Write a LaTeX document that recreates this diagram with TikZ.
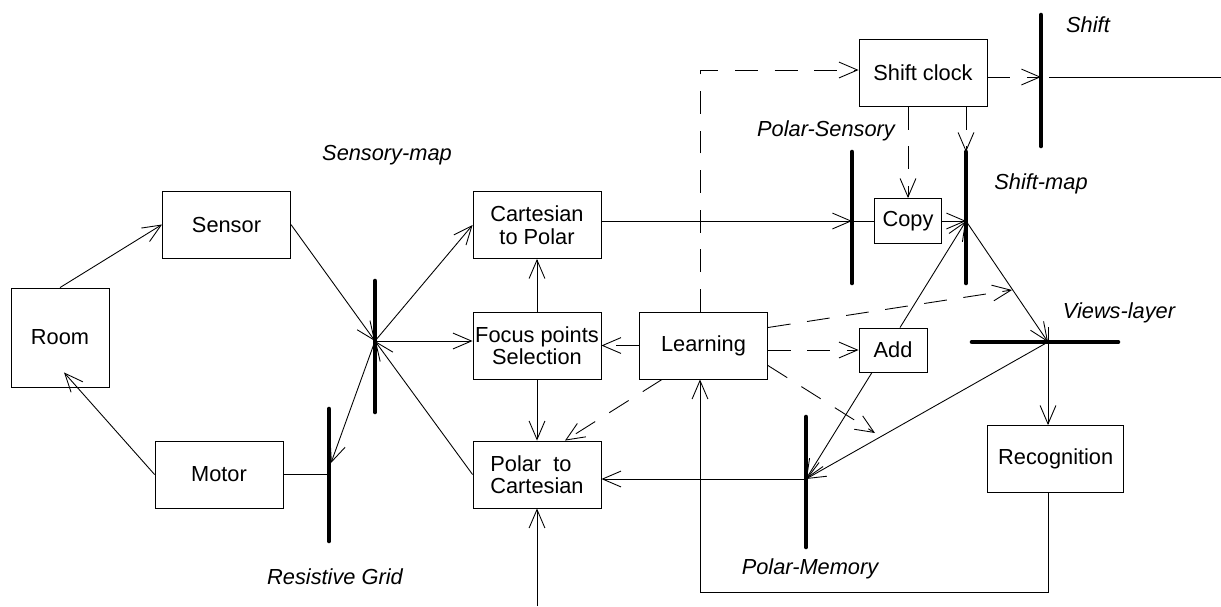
\documentclass[tikz,border=0pt]{standalone}
\usepackage{fontspec}
\setmainfont{Liberation Sans}
\usetikzlibrary{arrows.meta}
\tikzset{
  blk/.style={draw, inner sep=0pt, minimum width=2.56cm, minimum height=1.34cm, align=center},
  bar/.style={line width=2.6pt, line cap=round},
  lbl/.style={font=\fontsize{12.4}{12.8}\selectfont\itshape},
  dsh/.style={dash pattern=on 13pt off 9.5pt}
}

\begin{document}
\begin{tikzpicture}[x=0.02cm, y=-0.02cm, line width=0.5pt,
  >={Straight Barb[length=10.5pt,width=9pt]}, font=\fontsize{12.4}{12.8}\selectfont]
	\useasboundingbox (0,0) rectangle (1221,606);
	\node[blk, minimum width=1.96cm, minimum height=1.98cm] (Room) at (60,337.5) {Room};
	\node[blk] (Sensor) at (226.5,224.5) {Sensor};
	\node[blk] (Motor) at (219,474.5) {Motor};
	\node[blk] (CtoP) at (537,225) {Cartesian\\to Polar};
	\node[blk] (Focus) at (537,345.5) {Focus points\\Selection};
	\node[blk, align=left] (PtoC) at (537,474.5) {Polar~ to\\Cartesian};
	\node[blk] (Learning) at (703.5,345.5) {Learning};
	\node[blk] (Clock) at (923,73) {Shift clock};
	\node[blk, minimum width=1.35cm, minimum height=0.9cm] (Copy) at (908,221) {Copy};
	\node[blk, minimum width=1.36cm, minimum height=0.88cm] (Add) at (893,350) {Add};
	\node[blk, minimum width=2.72cm] (Recog) at (1055.7,459) {Recognition};

	\coordinate (smap) at (375,341);
	\coordinate (rgin) at (331,463);
	\coordinate (rg) at (329,474.5);
	\coordinate (psens) at (852,221);
	\coordinate (shmap) at (966,221);
	\coordinate (shmaptop) at (966,152);
	\coordinate (shbar) at (1041,77);
	\coordinate (shout) at (1221,77);
	\coordinate (views) at (1048,342);
	\coordinate (pmem) at (806,479);
	\coordinate (lcorner) at (700,70);
	\coordinate (lup) at (1012,290);
	\coordinate (ldn) at (875,433);
	\coordinate (lbot) at (700,592);
	\coordinate (pin) at (537,606);

	\draw[bar] (375,281) -- (375,412);
	\draw[bar] (329,409) -- (329,541);
	\draw[bar] (852,152) -- (852,283);
	\draw[bar] (966,152) -- (966,283);
	\draw[bar] (1041,15) -- (1041,146);
	\draw[bar] (972,342) -- (1118,342);
	\draw[bar] (806,417) -- (806,547);

	\path[->]
	(Room.north) edge (Sensor.west)
	(Sensor.east) edge (smap)
	(Motor.west) edge ([xshift=0.08cm,yshift=0.3cm]Room.south)
	(smap) edge (CtoP.west)
	(smap) edge (Focus.west |- smap)
	(smap) edge (rgin)
	(PtoC.west) edge (smap)
	(Focus.north) edge (CtoP.south)
	(Focus.south) edge (PtoC.north)
	(CtoP.east |- psens) edge (psens)
	(Copy.east) edge (shmap)
	(shmap) edge (views)
	([xshift=0.14cm]Add.north) edge (shmap)
	([xshift=-0.42cm]Add.south) edge (pmem)
	(views) edge (pmem)
	(pmem) edge (pmem -| PtoC.east)
	(pin) edge (PtoC.south)
	([yshift=0.3cm]views) edge (views |- Recog.north);
	\path (Motor.east) edge (rg) (psens) edge (Copy.west) ([xshift=0.16cm]shbar) edge (shout);
	\draw[->] (Recog.south -| views) |- (lbot) -- (lbot |- Learning.south);

	\path[->, dsh]
	(Learning.west) edge (Focus.east)
	(Learning.east |- Add.west) edge (Add.west)
	([yshift=0.36cm]Learning.east) edge (lup)
	([yshift=-0.4cm]Learning.east) edge (ldn)
	([xshift=0.46cm]Learning.south west) edge ([xshift=0.56cm]PtoC.north)
	(Clock.east |- shbar) edge (shbar)
	(Copy.north |- Clock.south) edge (Copy.north)
	(shmaptop |- Clock.south) edge (shmaptop);
	\draw[->, dsh] (Learning.north -| lcorner) -- (lcorner) -- (lcorner -| Clock.west);

	\node[lbl] (smaplbl) at (387,155) {Sensory-map};
	\node[lbl] (rglbl) at (335,577) {Resistive Grid};
	\node[lbl] (pslbl) at (826,131) {Polar-Sensory};
	\node[lbl] (shlbl) at (1088,25) {Shift};
	\node[lbl] (smlbl) at (1041,184) {Shift-map};
	\node[lbl] (vlbl) at (1119,313) {Views-layer};
	\node[lbl] (pmlbl) at (810,569) {Polar-Memory};
\end{tikzpicture}
\end{document}
